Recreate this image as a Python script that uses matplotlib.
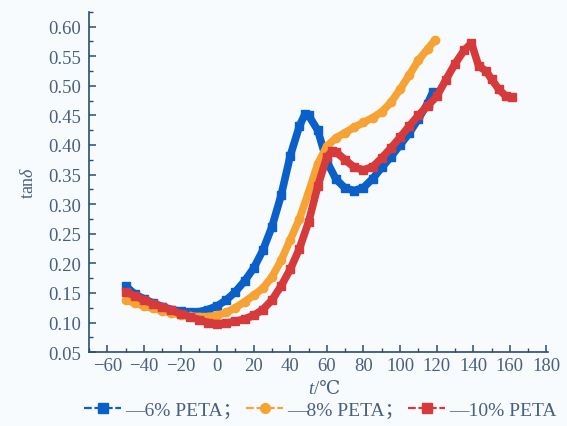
import matplotlib
matplotlib.use("Agg")
import matplotlib.pyplot as plt
from matplotlib.ticker import MultipleLocator
from matplotlib.lines import Line2D

FAM = ['Liberation Serif', 'Noto Sans CJK SC', 'DejaVu Serif']
plt.rcParams['font.family'] = FAM
plt.rcParams['mathtext.fontset'] = 'custom'
plt.rcParams['mathtext.rm'] = 'Liberation Serif'
plt.rcParams['mathtext.it'] = 'Liberation Serif:italic'

# ---- data ----
t_6 = [-50, -45, -40, -35, -30, -25, -20, -15, -10, -5, 0, 5, 10, 15, 20, 25, 30, 35, 40, 45, 48, 50,
       55, 60, 65, 70, 75, 80, 85, 90, 95, 100, 105, 110, 115, 118]
tan_6 = [0.162, 0.148, 0.140, 0.133, 0.127, 0.122, 0.119, 0.117, 0.118, 0.122, 0.128, 0.138, 0.152,
         0.170, 0.192, 0.222, 0.262, 0.315, 0.382, 0.432, 0.452, 0.450, 0.425, 0.372, 0.342, 0.327,
         0.323, 0.328, 0.343, 0.362, 0.380, 0.400, 0.420, 0.444, 0.470, 0.490]

t_8 = [-50, -45, -40, -35, -30, -25, -20, -15, -10, -5, 0, 5, 10, 15, 20, 25, 30, 35, 40, 45, 50,
       55, 60, 65, 70, 75, 80, 85, 90, 95, 100, 105, 110, 115, 119]
tan_8 = [0.138, 0.133, 0.128, 0.124, 0.120, 0.116, 0.113, 0.111, 0.110, 0.110, 0.112, 0.117, 0.125,
         0.135, 0.146, 0.158, 0.177, 0.205, 0.240, 0.275, 0.320, 0.368, 0.398, 0.412, 0.421, 0.430,
         0.438, 0.446, 0.456, 0.472, 0.494, 0.518, 0.543, 0.562, 0.577]

t_10 = [-50, -45, -40, -35, -30, -25, -20, -15, -10, -5, 0, 5, 10, 15, 20, 25, 30, 35, 40, 45, 50,
        55, 60, 63, 65, 70, 75, 80, 85, 90, 95, 100, 105, 110, 115, 120, 125, 130, 135, 139, 143,
        147, 150, 154, 158, 161]
tan_10 = [0.152, 0.145, 0.138, 0.132, 0.126, 0.121, 0.115, 0.110, 0.105, 0.100, 0.098, 0.099, 0.102,
          0.106, 0.112, 0.122, 0.138, 0.162, 0.190, 0.225, 0.270, 0.330, 0.380, 0.390, 0.388, 0.375,
          0.362, 0.358, 0.363, 0.378, 0.395, 0.413, 0.432, 0.450, 0.466, 0.482, 0.510, 0.537, 0.560,
          0.572, 0.533, 0.525, 0.511, 0.494, 0.482, 0.481]

labels = ['—6% PETA；', '—8% PETA；', '—10% PETA']
x_ticklabels = ['−60', '−40', '−20', '0', '20', '40', '60', '80', '100', '120', '140', '160', '180']
colors = ['#0a5fc9', '#f7a235', '#d63a3a']
markers = ['s', 'o', 's']

text_c = '#4a5f80'
axis_c = '#2e4b6e'
bg = '#f8fbfd'

fig = plt.figure(figsize=(5.67, 4.27), dpi=100)
fig.patch.set_facecolor(bg)
ax = fig.add_axes([0.157, 0.173, 0.810, 0.797])
ax.set_facecolor(bg)

series = [(t_6, tan_6), (t_8, tan_8), (t_10, tan_10)]
for i in range(3):
    x, y = series[i]
    ax.plot(x, y, color=colors[i], lw=5.5, marker=markers[i], ms=6, mec=colors[i],
            mfc=colors[i], solid_joinstyle='round', solid_capstyle='butt', zorder=2 + i)

ax.set_xlim(-70, 181)
ax.set_ylim(0.05, 0.625)
ax.xaxis.set_minor_locator(MultipleLocator(10))
ax.yaxis.set_minor_locator(MultipleLocator(0.025))
ax.set_xticks(range(-60, 181, 20))
ax.set_xticklabels(x_ticklabels)
ax.set_yticks([0.05 + 0.05 * k for k in range(12)])
ax.set_yticklabels(['%.2f' % (0.05 + 0.05 * k) for k in range(12)])

for s in ['top', 'right']:
    ax.spines[s].set_visible(False)
for s in ['left', 'bottom']:
    ax.spines[s].set_color(axis_c)
    ax.spines[s].set_linewidth(1.2)

ax.tick_params(which='major', direction='in', length=5, width=1.1, color=axis_c,
               labelsize=13.5, labelcolor=text_c)
ax.tick_params(axis='y', which='major', pad=5.5)
ax.tick_params(axis='x', which='major', pad=3.5)
ax.tick_params(which='minor', direction='in', length=3, width=1.0, color=axis_c)

ax.set_ylabel('tan$\\delta$', fontsize=13, color=text_c, labelpad=8)

# x label: italic t followed by /℃
fig.text(0.553, 0.088, 't', fontsize=13.5, style='italic', color=text_c, ha='right', va='center')
fig.text(0.553, 0.088, '/℃', fontsize=13.5, color=text_c, ha='left', va='center',
         family=['Liberation Serif', 'DejaVu Serif'])

handles = [Line2D([0], [0], color=colors[i], lw=1.6, ls=(0, (3.5, 1.2)), marker=markers[i], ms=7,
                  mfc=colors[i], mec=colors[i]) for i in range(3)]
fig.legend(handles, labels, loc='center', bbox_to_anchor=(0.565, 0.038), ncol=3, frameon=False,
           fontsize=14, labelcolor=text_c, handlelength=1.9, handletextpad=0.2, columnspacing=0.2,
           borderpad=0.1)

fig.savefig('out.png', dpi=100, facecolor=fig.get_facecolor())
